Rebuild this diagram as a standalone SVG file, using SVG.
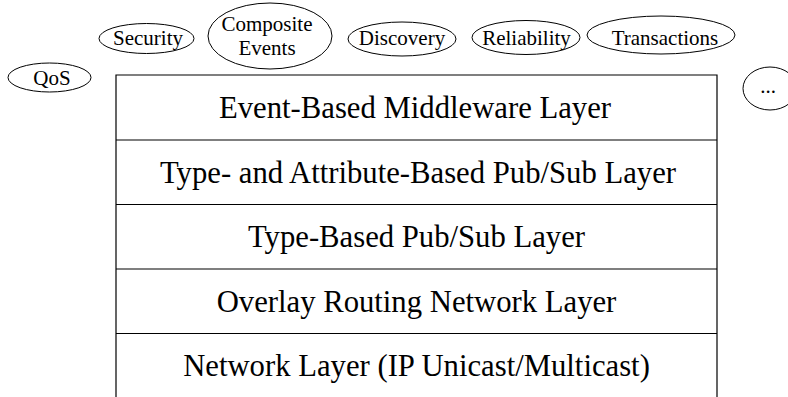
<svg xmlns="http://www.w3.org/2000/svg" width="788" height="397" viewBox="0 0 788 397">
  <style>
    .bubble { fill: #fff; stroke: #000; stroke-width: 1; }
    .frame { fill: none; stroke: #000; stroke-width: 1.2; }
    .sep { stroke: #000; stroke-width: 1.2; }
    .small { font-family: "Liberation Serif", "Times New Roman", serif; font-size: 21px; fill: #000; text-anchor: middle; }
    .layer { font-family: "Liberation Serif", "Times New Roman", serif; font-size: 30.7px; fill: #000; text-anchor: middle; }
  </style>

  <!-- service bubbles around the stack -->
  <g id="qos">
    <ellipse class="bubble" cx="49.5" cy="77.5" rx="41.5" ry="14.5"/>
    <text class="small" x="52" y="85">QoS</text>
  </g>
  <g id="security">
    <ellipse class="bubble" cx="146.5" cy="38.5" rx="47.5" ry="15"/>
    <text class="small" x="148" y="45">Security</text>
  </g>
  <g id="composite-events">
    <ellipse class="bubble" cx="270" cy="36" rx="62" ry="33"/>
    <text class="small" x="267" y="31">Composite</text>
    <text class="small" x="267" y="55">Events</text>
  </g>
  <g id="discovery">
    <ellipse class="bubble" cx="402" cy="39" rx="54" ry="17"/>
    <text class="small" x="402" y="45">Discovery</text>
  </g>
  <g id="reliability">
    <ellipse class="bubble" cx="526" cy="37.5" rx="54" ry="17"/>
    <text class="small" x="526.5" y="45">Reliability</text>
  </g>
  <g id="transactions">
    <ellipse class="bubble" cx="661" cy="35" rx="74" ry="19"/>
    <text class="small" x="665" y="45">Transactions</text>
  </g>
  <g id="more">
    <ellipse class="bubble" cx="770" cy="88.5" rx="27" ry="21.5"/>
    <text class="small" x="768" y="93">...</text>
  </g>

  <!-- layer stack: open at the bottom -->
  <g id="stack">
    <path class="frame" d="M116,397 V75 H717 V397"/>
    <g id="separators">
      <line class="sep" x1="116" y1="140" x2="717" y2="140"/>
      <line class="sep" x1="116" y1="204.5" x2="717" y2="204.5"/>
      <line class="sep" x1="116" y1="269" x2="717" y2="269"/>
      <line class="sep" x1="116" y1="333.5" x2="717" y2="333.5"/>
    </g>
    <g id="layer-middleware"><text class="layer" x="415" y="118">Event-Based Middleware Layer</text></g>
    <g id="layer-type-attr"><text class="layer" x="418" y="183">Type- and Attribute-Based Pub/Sub Layer</text></g>
    <g id="layer-type"><text class="layer" x="416.5" y="247">Type-Based Pub/Sub Layer</text></g>
    <g id="layer-overlay"><text class="layer" x="416.5" y="312">Overlay Routing Network Layer</text></g>
    <g id="layer-network"><text class="layer" x="416.5" y="376">Network Layer (IP Unicast/Multicast)</text></g>
  </g>
</svg>
